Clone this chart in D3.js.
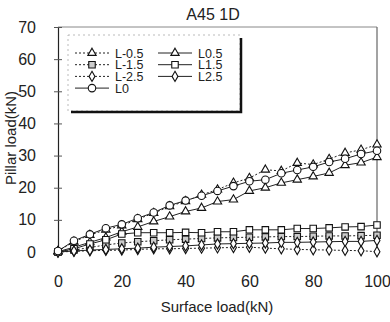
<!DOCTYPE html>
<html>
<head>
<meta charset="utf-8">
<script src="https://cdn.jsdelivr.net/npm/d3@7"></script>
<style>
  body { margin: 0; background: #fff; }
  svg text { font-family: "Liberation Sans", Arial, sans-serif; fill: #222; }
</style>
</head>
<body>
<svg id="chart" width="390" height="322"></svg>
<script>
// surface load steps (kN)
const surfaceLoad = d3.range(0, 101, 5);

// pillar load per series (kN)
const lm05 = [0.3, 3.2, 5.3, 6.9, 8.2, 10.2, 12.1, 14.2, 15.8, 17.8, 19.4, 21.5, 23.0, 25.6, 25.2, 27.7, 27.2, 28.9, 30.8, 31.8, 33.4];
const lp05 = [0.1, 1.5, 3.0, 4.5, 6.3, 7.8, 9.5, 11.0, 12.6, 13.7, 15.7, 16.3, 19.0, 20.0, 21.5, 22.5, 23.5, 24.6, 27.0, 27.8, 29.5];
const l0   = [0.3, 3.5, 5.5, 7.4, 8.6, 10.5, 12.3, 14.5, 16.0, 17.5, 19.0, 20.5, 22.0, 22.5, 24.5, 25.5, 26.5, 28.0, 29.0, 30.5, 31.5];
const lp15 = [0.0, 1.0, 2.5, 3.8, 5.6, 6.0, 6.0, 6.0, 6.1, 6.0, 6.3, 6.3, 6.9, 6.9, 6.9, 7.3, 7.3, 7.5, 7.8, 7.9, 8.4];
const lm15 = [0.0, 0.6, 1.4, 2.2, 2.8, 3.2, 3.5, 3.8, 4.0, 4.2, 4.4, 4.5, 4.6, 4.7, 4.8, 4.8, 4.9, 5.0, 5.0, 5.1, 5.2];
const lp25 = [0.0, 0.3, 0.6, 0.8, 1.0, 1.2, 1.5, 1.7, 1.9, 2.2, 2.5, 2.6, 2.7, 2.8, 3.0, 3.0, 3.1, 3.2, 3.3, 3.3, 3.6];
const lm25 = [0.0, 0.2, 0.4, 0.5, 0.6, 0.8, 1.0, 1.0, 1.1, 1.2, 1.3, 1.4, 1.5, 1.2, 1.0, 0.8, 0.7, 0.6, 0.5, 0.4, 0.1];

const xTicks = [0, 20, 40, 60, 80, 100];
const yTicks = [0, 10, 20, 30, 40, 50, 60, 70];

// size = symbol area in px^2
const series = [
  { name: 'L-0.5', values: lm05, shape: d3.symbolTriangle, size: 30, dash: '2,2', fill: '#fff', col: 0, row: 0 },
  { name: 'L0.5',  values: lp05, shape: d3.symbolTriangle, size: 30, dash: null,  fill: '#fff', col: 1, row: 0 },
  { name: 'L-1.5', values: lm15, shape: d3.symbolSquare,   size: 42, dash: '2,2', fill: '#ccc', col: 0, row: 1 },
  { name: 'L1.5',  values: lp15, shape: d3.symbolSquare,   size: 42, dash: null,  fill: '#fff', col: 1, row: 1 },
  { name: 'L-2.5', values: lm25, shape: d3.symbolDiamond,  size: 30, dash: '2,2', fill: '#fff', col: 0, row: 2 },
  { name: 'L2.5',  values: lp25, shape: d3.symbolDiamond,  size: 30, dash: null,  fill: '#fff', col: 1, row: 2 },
  { name: 'L0',    values: l0,   shape: d3.symbolCircle,   size: 44, dash: null,  fill: '#fff', col: 0, row: 3 }
];

const svg = d3.select('#chart');
const margin = { left: 58, top: 27, right: 13, bottom: 70 };
const width = 390 - margin.left - margin.right;
const height = 322 - margin.top - margin.bottom;

const x = d3.scaleLinear().domain([0, 100]).range([0, width]);
const y = d3.scaleLinear().domain([0, 70]).range([height, 0]);

const g = svg.append('g').attr('transform', `translate(${margin.left},${margin.top})`);

// plot frame (top/right light, left axis dark)
g.append('line').attr('x1', 0).attr('x2', width).attr('y1', 0).attr('y2', 0)
  .attr('stroke', '#888').attr('stroke-width', 1);
g.append('line').attr('x1', width).attr('x2', width).attr('y1', 0).attr('y2', height)
  .attr('stroke', '#666').attr('stroke-width', 1.2);

// y axis
const yAxis = d3.axisLeft(y).tickValues(yTicks).tickSizeInner(4).tickSizeOuter(0).tickPadding(18);
const gY = g.append('g').call(yAxis);
gY.select('.domain').attr('stroke', '#222').attr('stroke-width', 1.2);
gY.selectAll('.tick line').attr('x2', 4).attr('x1', -4).attr('stroke', '#555');
gY.selectAll('.tick text').attr('font-size', 16);

// x axis (labels only, no visible baseline)
const xAxis = d3.axisBottom(x).tickValues(xTicks).tickSize(0).tickPadding(24);
const gX = g.append('g').attr('transform', `translate(0,${height})`).call(xAxis);
gX.select('.domain').remove();
gX.selectAll('.tick text').attr('font-size', 16);

// series lines
const line = d3.line().x((d, i) => x(surfaceLoad[i])).y(d => y(d));

series.forEach(s => {
  g.append('path').datum(s.values)
    .attr('d', line)
    .attr('fill', 'none')
    .attr('stroke', '#222')
    .attr('stroke-width', 1)
    .attr('stroke-dasharray', s.dash);
});

// markers
series.forEach(s => {
  const sym = d3.symbol().type(s.shape).size(s.size);
  g.append('g').selectAll('path').data(s.values).join('path')
    .attr('d', sym)
    .attr('transform', (d, i) => `translate(${x(surfaceLoad[i])},${y(d)})`)
    .attr('fill', s.fill)
    .attr('stroke', '#111')
    .attr('stroke-width', 1.1);
});

// legend
const leg = svg.append('g').attr('transform', 'translate(68,35)');
leg.append('rect').attr('x', 0).attr('y', 0).attr('width', 172).attr('height', 76)
  .attr('fill', '#fff').attr('stroke', '#aaa').attr('stroke-width', 0.8).attr('stroke-dasharray', '2,3');
leg.append('path').attr('d', 'M3,77 H173 V3').attr('fill', 'none')
  .attr('stroke', '#111').attr('stroke-width', 2.5);

const colX = [7, 90];
series.forEach(s => {
  const ly = 18 + s.row * 11.7;
  const lx = colX[s.col];
  leg.append('line').attr('x1', lx).attr('x2', lx + 34).attr('y1', ly).attr('y2', ly)
    .attr('stroke', '#222').attr('stroke-width', 1).attr('stroke-dasharray', s.dash);
  leg.append('path')
    .attr('d', d3.symbol().type(s.shape).size(s.size)())
    .attr('transform', `translate(${lx + 17},${ly})`)
    .attr('fill', s.fill).attr('stroke', '#111').attr('stroke-width', 1.1);
  leg.append('text').attr('x', lx + 40).attr('y', ly + 4.5)
    .attr('font-size', 12.5).text(s.name);
});

// title and axis titles
svg.append('text').attr('x', 213).attr('y', 20).attr('text-anchor', 'middle')
  .attr('font-size', 16).text('A45 1D');

svg.append('text').attr('text-anchor', 'middle')
  .attr('transform', 'translate(16,138)rotate(-90)')
  .attr('font-size', 15).text('Pillar load(kN)');

svg.append('text').attr('x', 217).attr('y', 312).attr('text-anchor', 'middle')
  .attr('font-size', 15).text('Surface load(kN)');
</script>
</body>
</html>
